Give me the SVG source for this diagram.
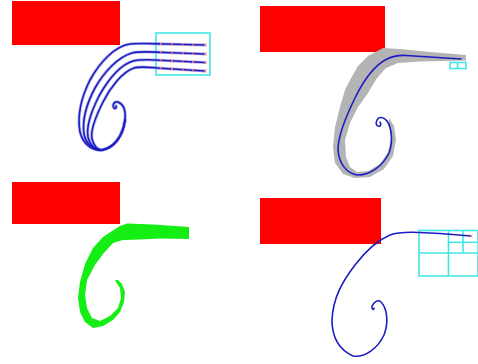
<svg xmlns="http://www.w3.org/2000/svg" width="478" height="364" viewBox="0 0 478 364">
<style>
.red{fill:#ff0000}
.cyan{fill:none;stroke:#44e6e6;stroke-width:1.6}
.blue{fill:none;stroke:#1c1cc4;stroke-width:1.6;stroke-linejoin:round;stroke-linecap:round}
.halo{fill:none;stroke:#8a8ae0;stroke-width:3.2;stroke-linejoin:round;stroke-linecap:round;opacity:0.6}
.mk{fill:none;stroke:#e0708c;stroke-width:0.9}
</style>
<defs>
<path id="x" d="M-1.5,-1.5 L1.5,1.5 M-1.5,1.5 L1.5,-1.5" class="mk"/>
</defs>
<rect width="478" height="364" fill="#ffffff"/>

<g id="panel1">
<rect class="red" x="12" y="1" width="108" height="44"/>
<rect class="cyan" x="156" y="33" width="54" height="42"/>
<g id="p1-lines">
<path class="halo" d="M205,45 L165,44 C150,43.5 140,43 130,44 C115,46 100,62 90,80 C82,96 77,115 80,132 C83,144 92,151 102,150 C114,148 123,136 125,120 C126,110 123,104 118,102 C114,101 112,105 114,108 C115,109 117,108 116,106"/>
<path class="halo" d="M205,54 L165,52.5 C150,52 140,51 132,53 C118,57 104,72 95,88 C87,103 82,120 84,134 C86,144 93,150 102,150 C114,148 123,136 125,120"/>
<path class="halo" d="M205,62.5 L165,60.5 C150,59.5 140,59 133,61 C120,65 108,80 99,96 C92,110 86,126 88,137 C90,145 95,150 102,150 C114,148 123,136 125,120"/>
<path class="halo" d="M205,71 L165,68.5 C150,67.5 140,66 134,68 C122,72 110,88 103,102 C96,116 90,130 92,139 C94,146 97,150 102,150"/>
<path class="blue" d="M205,45 L165,44 C150,43.5 140,43 130,44 C115,46 100,62 90,80 C82,96 77,115 80,132 C83,144 92,151 102,150 C114,148 123,136 125,120 C126,110 123,104 118,102 C114,101 112,105 114,108 C115,109 117,108 116,106"/>
<path class="blue" d="M205,54 L165,52.5 C150,52 140,51 132,53 C118,57 104,72 95,88 C87,103 82,120 84,134 C86,144 93,150 102,150 C114,148 123,136 125,120"/>
<path class="blue" d="M205,62.5 L165,60.5 C150,59.5 140,59 133,61 C120,65 108,80 99,96 C92,110 86,126 88,137 C90,145 95,150 102,150 C114,148 123,136 125,120"/>
<path class="blue" d="M205,71 L165,68.5 C150,67.5 140,66 134,68 C122,72 110,88 103,102 C96,116 90,130 92,139 C94,146 97,150 102,150"/>
</g>
<g id="p1-markers">
<use href="#x" x="161" y="44"/><use href="#x" x="172" y="44.2"/><use href="#x" x="183" y="44.5"/><use href="#x" x="193" y="44.8"/><use href="#x" x="205" y="45"/>
<use href="#x" x="161" y="52.3"/><use href="#x" x="172" y="52.8"/><use href="#x" x="183" y="53.2"/><use href="#x" x="193" y="53.6"/><use href="#x" x="205" y="54"/>
<use href="#x" x="161" y="60.3"/><use href="#x" x="172" y="60.9"/><use href="#x" x="183" y="61.5"/><use href="#x" x="193" y="62"/><use href="#x" x="205" y="62.5"/>
<use href="#x" x="161" y="68.3"/><use href="#x" x="172" y="69"/><use href="#x" x="183" y="69.7"/><use href="#x" x="193" y="70.4"/><use href="#x" x="205" y="71"/>
</g>
</g>

<g id="panel2">
<rect class="red" x="260" y="6" width="125" height="46"/>
<path fill="#b4b4b4" d="M466,55 L430,52 L400,49 L383,48 L368,56 L358,66 L350,80 L345,90 L340,107 L335,127 L333,147 L335,163 L343,174 L355,178 L370,177 L384,169 L393,156 L396,140 L394,126 L389,118 L389,125 L391,138 L388,152 L380,164 L368,171 L357,172 L350,167 L346,157 L345,140 L350,123 L358,107 L368,93 L377,78 L386,68 L398,63 L420,61.5 L466,60.5 Z"/>
<path class="blue" d="M461,59 L406,55.5 C398,55 392,56.5 386,59.5 C374,66 364,80 356,96 C347,114 338,135 338,150 C339,164 347,174 358,175 C370,175 383,166 389,153 C393,143 392,128 387,121 C384,117 379,116 377,120 C375,124 377,127 380,126 C381,125 381,123 380,122"/>
<rect class="cyan" x="450" y="62.5" width="16" height="6"/>
<line class="cyan" x1="457.5" y1="62.5" x2="457.5" y2="68.5"/>
</g>

<g id="panel3">
<rect class="red" x="12" y="182" width="108" height="42"/>
<path fill="#14ee14" d="M189,227 L153,224.5 L127,223.5 L120,226 L112,231 L103,237 L93,248 L85,264 L80,282 L78,298 L80,312 L85,322 L93,328 L103,326 L113,320 L120,312 L124,302 L125,292 L122,284 L118,280 L115,280 L116,282 L120,288 L121,298 L118,308 L110,316 L100,321 L92,318 L87,308 L85,295 L87,280 L95,265 L103,254 L113,243 L123,240 L140,239.5 L160,238.5 L189,239 Z"/>
</g>

<g id="panel4">
<rect class="red" x="260" y="198" width="121" height="46"/>
<g id="p4-grid">
<rect class="cyan" x="419" y="230.5" width="59" height="45.5"/>
<line class="cyan" x1="448.5" y1="230.5" x2="448.5" y2="276"/>
<line class="cyan" x1="419" y1="253" x2="478" y2="253"/>
<line class="cyan" x1="463" y1="230.5" x2="463" y2="253"/>
<line class="cyan" x1="448.5" y1="242.3" x2="478" y2="242.3"/>
</g>
<path class="blue" d="M471,236 L440,233.5 L419,232.5 C408,232 398,232 390,235 C378,240 365,252 355,265 C342,282 333,298 332,320 C332,338 340,350 353,356 C365,358 378,348 384,335 C389,322 387,308 381,302 C378,299 374,302 372,306 C371,309 374,311 374,308"/>
<use href="#x" x="471" y="236"/>
</g>
</svg>
